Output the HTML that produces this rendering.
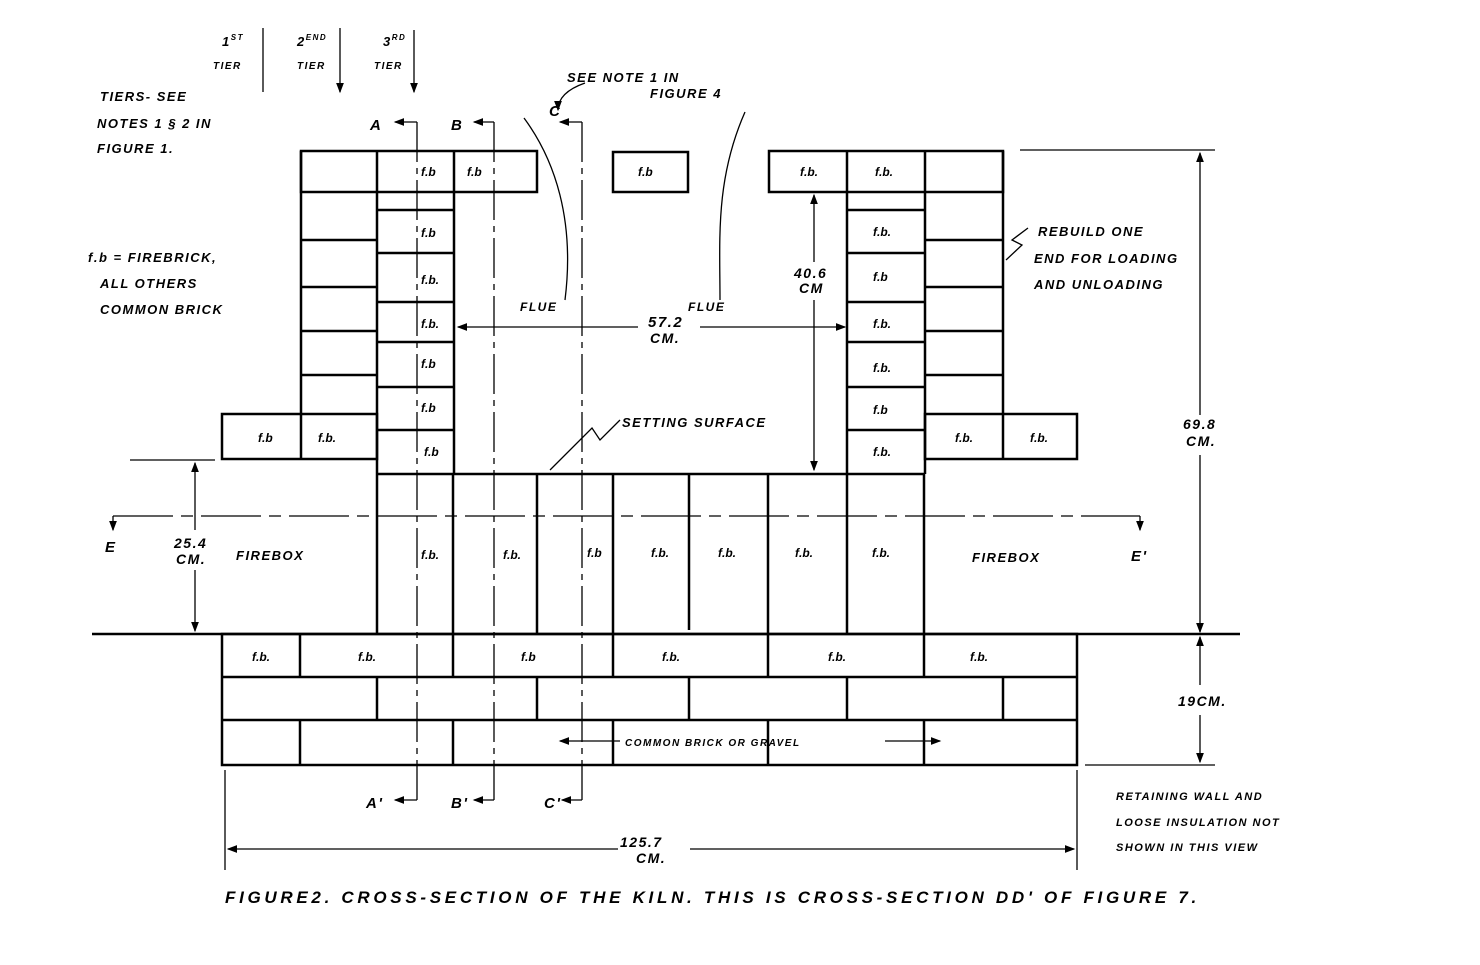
<!DOCTYPE html>
<html><head><meta charset="utf-8"><style>
html,body{margin:0;padding:0;background:#fff;}
svg{display:block;}
text{font-family:"Liberation Sans",sans-serif;font-style:italic;font-weight:bold;fill:#000;}
.s{font-size:13px;letter-spacing:1.5px;}
.fb{font-size:12px;font-weight:normal;}
</style></head><body>
<svg width="1480" height="965" viewBox="0 0 1480 965" xmlns="http://www.w3.org/2000/svg">
<defs><marker id="ar" markerWidth="8" markerHeight="6" refX="7" refY="3" orient="auto"><path d="M0,0 L8,3 L0,6 z" fill="#000"/></marker></defs>
<g stroke="#000" stroke-width="2.5" fill="none">
<rect x="301" y="151" width="236" height="41"/>
<line x1="377" y1="151" x2="377" y2="474"/>
<line x1="454" y1="151" x2="454" y2="474"/>
<line x1="301" y1="151" x2="301" y2="414"/>
<line x1="301" y1="240" x2="377" y2="240"/><line x1="301" y1="287" x2="377" y2="287"/>
<line x1="301" y1="331" x2="377" y2="331"/><line x1="301" y1="375" x2="377" y2="375"/>
<line x1="377" y1="210" x2="454" y2="210"/><line x1="377" y1="253" x2="454" y2="253"/>
<line x1="377" y1="302" x2="454" y2="302"/><line x1="377" y1="342" x2="454" y2="342"/>
<line x1="377" y1="387" x2="454" y2="387"/><line x1="377" y1="430" x2="454" y2="430"/>
<rect x="222" y="414" width="155" height="45"/><line x1="301" y1="414" x2="301" y2="459"/>
<rect x="613" y="152" width="75" height="40"/>
<rect x="769" y="151" width="234" height="41"/>
<line x1="847" y1="151" x2="847" y2="474"/>
<line x1="925" y1="151" x2="925" y2="474"/>
<line x1="1003" y1="151" x2="1003" y2="414"/>
<line x1="847" y1="210" x2="925" y2="210"/><line x1="847" y1="253" x2="925" y2="253"/>
<line x1="847" y1="302" x2="925" y2="302"/><line x1="847" y1="342" x2="925" y2="342"/>
<line x1="847" y1="387" x2="925" y2="387"/><line x1="847" y1="430" x2="925" y2="430"/>
<line x1="925" y1="240" x2="1003" y2="240"/><line x1="925" y1="287" x2="1003" y2="287"/>
<line x1="925" y1="331" x2="1003" y2="331"/><line x1="925" y1="375" x2="1003" y2="375"/>
<rect x="925" y="414" width="152" height="45"/><line x1="1003" y1="414" x2="1003" y2="459"/>
<line x1="377" y1="474" x2="925" y2="474"/>
<line x1="377" y1="474" x2="377" y2="634"/><line x1="453" y1="474" x2="453" y2="634"/>
<line x1="537" y1="474" x2="537" y2="634"/><line x1="613" y1="474" x2="613" y2="634"/>
<line x1="689" y1="474" x2="689" y2="630"/><line x1="768" y1="474" x2="768" y2="634"/>
<line x1="847" y1="474" x2="847" y2="634"/><line x1="924" y1="474" x2="924" y2="634"/>
<line x1="92" y1="634" x2="1240" y2="634"/>
<rect x="222" y="634" width="855" height="131"/>
<line x1="222" y1="677" x2="1077" y2="677"/><line x1="222" y1="720" x2="1077" y2="720"/>
<line x1="300" y1="634" x2="300" y2="677"/><line x1="453" y1="634" x2="453" y2="677"/><line x1="613" y1="634" x2="613" y2="677"/><line x1="768" y1="634" x2="768" y2="677"/><line x1="924" y1="634" x2="924" y2="677"/>
<line x1="377" y1="677" x2="377" y2="720"/><line x1="537" y1="677" x2="537" y2="720"/><line x1="689" y1="677" x2="689" y2="720"/><line x1="847" y1="677" x2="847" y2="720"/><line x1="1003" y1="677" x2="1003" y2="720"/>
<line x1="300" y1="720" x2="300" y2="765"/><line x1="453" y1="720" x2="453" y2="765"/><line x1="613" y1="720" x2="613" y2="765"/><line x1="768" y1="720" x2="768" y2="765"/><line x1="924" y1="720" x2="924" y2="765"/>
</g>
<g stroke="#000" stroke-width="1.3" fill="none">
<line x1="263" y1="28" x2="263" y2="92"/><line x1="340" y1="28" x2="340" y2="92" marker-end="url(#ar)"/><line x1="414" y1="30" x2="414" y2="92" marker-end="url(#ar)"/>
<line x1="417" y1="122" x2="417" y2="800" stroke-dasharray="40,6,6,6"/>
<line x1="494" y1="122" x2="494" y2="800" stroke-dasharray="40,6,6,6"/>
<line x1="582" y1="122" x2="582" y2="800" stroke-dasharray="40,6,6,6"/>
<line x1="417" y1="122" x2="395" y2="122" marker-end="url(#ar)"/>
<line x1="494" y1="122" x2="474" y2="122" marker-end="url(#ar)"/>
<line x1="582" y1="122" x2="560" y2="122" marker-end="url(#ar)"/>
<line x1="417" y1="800" x2="395" y2="800" marker-end="url(#ar)"/>
<line x1="494" y1="800" x2="474" y2="800" marker-end="url(#ar)"/>
<line x1="582" y1="800" x2="562" y2="800" marker-end="url(#ar)"/>
<line x1="113" y1="516" x2="1140" y2="516" stroke-dasharray="60,8,12,8"/>
<line x1="113" y1="516" x2="113" y2="530" marker-end="url(#ar)"/>
<line x1="1140" y1="516" x2="1140" y2="530" marker-end="url(#ar)"/>
<path d="M524,118 C555,160 575,220 565,300"/>
<path d="M745,112 C715,180 720,240 720,300"/>
<path d="M585,83 C565,90 558,100 558,110" marker-end="url(#ar)"/>
<line x1="638" y1="327" x2="458" y2="327" marker-end="url(#ar)"/>
<line x1="700" y1="327" x2="845" y2="327" marker-end="url(#ar)"/>
<line x1="814" y1="262" x2="814" y2="195" marker-end="url(#ar)"/>
<line x1="814" y1="300" x2="814" y2="470" marker-end="url(#ar)"/>
<line x1="1020" y1="150" x2="1215" y2="150"/>
<line x1="1200" y1="415" x2="1200" y2="153" marker-end="url(#ar)"/>
<line x1="1200" y1="455" x2="1200" y2="632" marker-end="url(#ar)"/>
<line x1="1200" y1="685" x2="1200" y2="637" marker-end="url(#ar)"/>
<line x1="1200" y1="715" x2="1200" y2="762" marker-end="url(#ar)"/>
<line x1="1085" y1="765" x2="1215" y2="765"/>
<line x1="130" y1="460" x2="215" y2="460"/>
<line x1="195" y1="530" x2="195" y2="463" marker-end="url(#ar)"/>
<line x1="195" y1="570" x2="195" y2="631" marker-end="url(#ar)"/>
<line x1="225" y1="770" x2="225" y2="870"/><line x1="1077" y1="770" x2="1077" y2="870"/>
<line x1="618" y1="849" x2="228" y2="849" marker-end="url(#ar)"/>
<line x1="690" y1="849" x2="1074" y2="849" marker-end="url(#ar)"/>
<path d="M620,420 L600,440 L592,428 L550,470" />
<path d="M1028,228 L1012,240 L1022,245 L1006,260"/>
<line x1="620" y1="741" x2="560" y2="741" marker-end="url(#ar)"/>
<line x1="885" y1="741" x2="940" y2="741" marker-end="url(#ar)"/>
</g>
<g class="s">
<text x="222" y="46">1<tspan font-size="8" dy="-6">ST</tspan></text>
<text x="297" y="46">2<tspan font-size="8" dy="-6">END</tspan></text>
<text x="383" y="46">3<tspan font-size="8" dy="-6">RD</tspan></text>
<text x="213" y="69" font-size="10">TIER</text>
<text x="297" y="69" font-size="10">TIER</text>
<text x="374" y="69" font-size="10">TIER</text>
<text x="100" y="101">TIERS-  SEE</text>
<text x="97" y="128">NOTES 1 § 2  IN</text>
<text x="97" y="153">FIGURE 1.</text>
<text x="88" y="262">f.b = FIREBRICK,</text>
<text x="100" y="288">ALL OTHERS</text>
<text x="100" y="314">COMMON  BRICK</text>
<text x="567" y="82">SEE NOTE 1  IN</text>
<text x="650" y="98">FIGURE 4</text>
<text x="370" y="130" font-size="15">A</text>
<text x="451" y="130" font-size="15">B</text>
<text x="549" y="116" font-size="15">C</text>
<text x="520" y="311" font-size="12">FLUE</text>
<text x="688" y="311" font-size="12">FLUE</text>
<text x="648" y="327" font-weight="normal" font-size="15">57.2</text>
<text x="650" y="343" font-weight="normal" font-size="14">CM.</text>
<text x="794" y="278" font-weight="normal" font-size="14">40.6</text>
<text x="799" y="293" font-weight="normal" font-size="14">CM</text>
<text x="622" y="427">SETTING  SURFACE</text>
<text x="1038" y="236">REBUILD  ONE</text>
<text x="1034" y="263">END  FOR  LOADING</text>
<text x="1034" y="289">AND  UNLOADING</text>
<text x="1183" y="429" font-weight="normal" font-size="14">69.8</text>
<text x="1186" y="446" font-weight="normal" font-size="14">CM.</text>
<text x="105" y="552" font-size="15">E</text>
<text x="1131" y="561" font-size="15">E'</text>
<text x="174" y="548" font-weight="normal" font-size="14">25.4</text>
<text x="176" y="564" font-weight="normal" font-size="14">CM.</text>
<text x="236" y="560">FIREBOX</text>
<text x="972" y="562">FIREBOX</text>
<text x="1178" y="706" font-weight="normal" font-size="14">19CM.</text>
<text x="366" y="808" font-size="15">A'</text>
<text x="451" y="808" font-size="15">B'</text>
<text x="544" y="808" font-size="15">C'</text>
<text x="625" y="746" font-size="10" font-weight="normal">COMMON  BRICK  OR  GRAVEL</text>
<text x="620" y="847" font-weight="normal" font-size="14">125.7</text>
<text x="636" y="863" font-weight="normal" font-size="14">CM.</text>
<text x="1116" y="800" font-size="11">RETAINING  WALL  AND</text>
<text x="1116" y="826" font-size="11">LOOSE  INSULATION  NOT</text>
<text x="1116" y="851" font-size="11">SHOWN  IN  THIS  VIEW</text>
<text x="225" y="903" font-weight="normal" font-size="17" letter-spacing="3.7">FIGURE2.  CROSS-SECTION OF THE KILN. THIS IS CROSS-SECTION DD' OF FIGURE 7.</text>
</g>
<g class="fb">
<text x="421" y="176">f.b</text><text x="467" y="176">f.b</text><text x="638" y="176">f.b</text>
<text x="800" y="176">f.b.</text><text x="875" y="176">f.b.</text>
<text x="421" y="237">f.b</text><text x="421" y="284">f.b.</text><text x="421" y="328">f.b.</text><text x="421" y="368">f.b</text><text x="421" y="412">f.b</text><text x="424" y="456">f.b</text>
<text x="873" y="236">f.b.</text><text x="873" y="281">f.b</text><text x="873" y="328">f.b.</text><text x="873" y="372">f.b.</text><text x="873" y="414">f.b</text><text x="873" y="456">f.b.</text>
<text x="258" y="442">f.b</text><text x="318" y="442">f.b.</text><text x="955" y="442">f.b.</text><text x="1030" y="442">f.b.</text>
<text x="421" y="559">f.b.</text><text x="503" y="559">f.b.</text><text x="587" y="557">f.b</text><text x="651" y="557">f.b.</text><text x="718" y="557">f.b.</text><text x="795" y="557">f.b.</text><text x="872" y="557">f.b.</text>
<text x="252" y="661">f.b.</text><text x="358" y="661">f.b.</text><text x="521" y="661">f.b</text><text x="662" y="661">f.b.</text><text x="828" y="661">f.b.</text><text x="970" y="661">f.b.</text>
</g>
</svg>
</body></html>
